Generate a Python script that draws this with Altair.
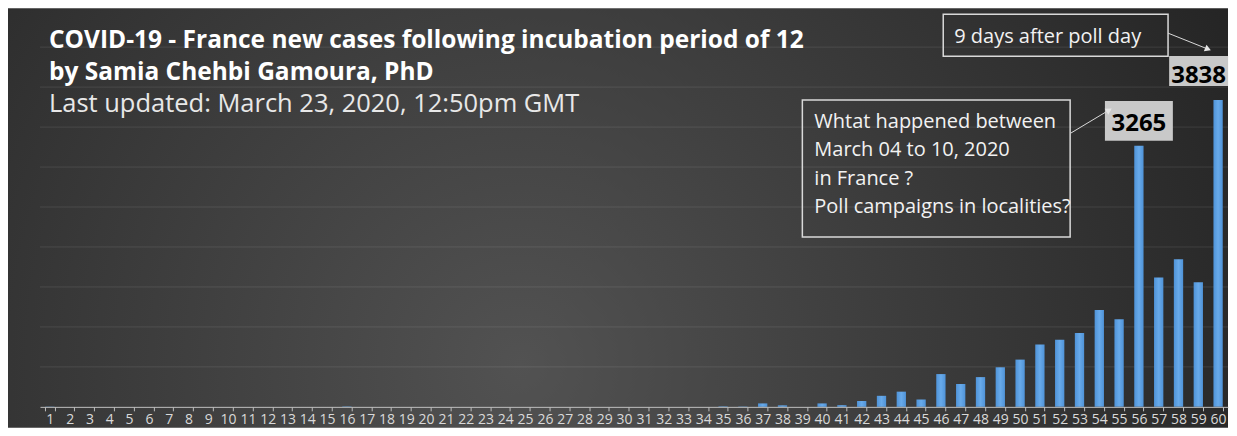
import altair as alt
import pandas as pd

# ---------------- data ----------------
days = list(range(1, 61))
cases = [3, 0, 0, 0, 0, 0, 0, 0, 0, 0,
         0, 0, 0, 0, 0, 5, 0, 0, 0, 0,
         0, 0, 0, 0, 0, 0, 0, 0, 0, 0,
         0, 0, 0, 0, 6, 4, 43, 19, 0, 43,
         21, 73, 138, 190, 92, 410, 286, 372, 495, 591,
         780, 839, 924, 1210, 1097, 3265, 1617, 1847, 1559, 3838]
grid_values = [500, 1000, 1500, 2000, 2500, 3000, 3500, 4000, 4500]

title_lines = ["COVID-19 - France new cases following incubation period of 12",
               "by Samia Chehbi Gamoura, PhD"]
subtitle_line = "Last updated: March 23, 2020, 12:50pm GMT"
callout_top = "9 days after poll day"
callout_lines = ["Whtat happened between",
                 "March 04 to 10, 2020",
                 "in France ?",
                 "Poll campaigns in localities?"]
label_days = [56, 60]

# ---------------- layout ----------------
W, H = 1189, 360
L, R, T, B = 32, 0, 39, 21
FONT = "Open Sans"

bars_df = pd.DataFrame({"day": days, "cases": cases})
grid_df = pd.DataFrame({"v": grid_values})
lab_df = bars_df[bars_df["day"].isin(label_days)]
one = pd.DataFrame({"a": [0]})

yscale = alt.Scale(domain=[0, 4500], nice=False)
xscale = alt.Scale(paddingInner=0.53, paddingOuter=0.265)

bg_grad = {"gradient": "radial", "x1": 0.42, "y1": 0.62, "r1": 0,
           "x2": 0.42, "y2": 0.62, "r2": 0.75,
           "stops": [{"offset": 0, "color": "#525252"},
                     {"offset": 1, "color": "#1e1e1e"}]}
bar_grad = {"gradient": "linear", "x1": 0, "y1": 0, "x2": 1, "y2": 0,
            "stops": [{"offset": 0, "color": "#4f93d8"},
                      {"offset": 0.5, "color": "#68aaea"},
                      {"offset": 1, "color": "#4f93d8"}]}

background = alt.Chart(one).mark_rect(fill=bg_grad).encode(
    x=alt.value(-L), x2=alt.value(W + R), y=alt.value(-T), y2=alt.value(H + B))

grid = alt.Chart(grid_df).mark_rule(color="#ffffff", opacity=0.1, strokeWidth=1).encode(
    y=alt.Y("v:Q", scale=yscale, axis=None), x=alt.value(0), x2=alt.value(W))

bars = alt.Chart(bars_df).mark_bar(fill=bar_grad).encode(
    x=alt.X("day:O", scale=xscale,
            axis=alt.Axis(title=None, labelAngle=0, labelOverlap=False, tickBand="extent",
                          labelFont=FONT, labelFontSize=14, labelColor="#d9d9d9",
                          domainColor="#bfbfbf", tickColor="#bfbfbf", tickSize=4,
                          labelPadding=2, grid=False, zindex=1)),
    y=alt.Y("cases:Q", scale=yscale, axis=None))


def label_layer(day, box_path, dx, box_dy, text_dy, size):
    d = lab_df[lab_df["day"] == day]
    box = alt.Chart(d).mark_point(shape=box_path, size=400, filled=True, opacity=1,
                                  color="#c9c9c9", strokeWidth=0, xOffset=dx, yOffset=box_dy).encode(
        x=alt.X("day:O", scale=xscale), y=alt.Y("cases:Q", scale=yscale))
    txt = alt.Chart(d).mark_text(font=FONT, fontWeight="bold", fontSize=size, color="#000000",
                                 align="center", baseline="alphabetic", dx=dx, dy=text_dy).encode(
        x=alt.X("day:O", scale=xscale), y=alt.Y("cases:Q", scale=yscale), text="cases:Q")
    return [box, txt]


def text(s, x, y, size, weight="normal", color="#f2f2f2"):
    return alt.Chart(one).mark_text(text=s, font=FONT, fontSize=size, fontWeight=weight,
                                    color=color, align="left", baseline="alphabetic").encode(
        x=alt.value(x), y=alt.value(y))


def box(x1, y1, x2, y2):
    return alt.Chart(one).mark_rect(fillOpacity=0, stroke="#d9d9d9", strokeWidth=1.5).encode(
        x=alt.value(x1), x2=alt.value(x2), y=alt.value(y1), y2=alt.value(y2))


def arrow(x1, y1, x2, y2, angle):
    line = alt.Chart(one).mark_rule(color="#d9d9d9", strokeWidth=1).encode(
        x=alt.value(x1), y=alt.value(y1), x2=alt.value(x2), y2=alt.value(y2))
    head = alt.Chart(one).mark_point(shape="triangle-right", filled=True, size=50, opacity=1,
                                     color="#e6e6e6", angle=angle).encode(
        x=alt.value(x2), y=alt.value(y2))
    return [line, head]


layers = [background, grid, bars]
layers += label_layer(56, "M-3.4,-2H3.4V2H-3.4Z", 0, -25, -15, 24)
layers += label_layer(60, "M-2.95,-1.5H2.95V1.5H-2.95Z", -19.5, -29, -17, 24)
layers += [text(title_lines[0], 9, 1.3, 24.5, "bold", "#ffffff"),
           text(title_lines[1], 9, 33, 24.5, "bold", "#ffffff"),
           text(subtitle_line, 9, 64.7, 25.5, "normal", "#e8e8e8")]
layers += [box(904, -33, 1129, 9), text(callout_top, 915, -4.3, 20)]
layers += arrow(1129, -14, 1169, 2, 22)
layers += [box(763, 53, 1031, 190)]
for i, s in enumerate(callout_lines):
    layers.append(text(s, 775, 81 + 28.4 * i, 20))
layers += arrow(1031.7, 86, 1070, 63, 329)

chart = alt.layer(*layers).properties(
    width=W, height=H, padding=0, background="#ffffff"
).configure_view(strokeWidth=0)

chart.save("out.html", embed_options={"renderer": "svg", "actions": False})
